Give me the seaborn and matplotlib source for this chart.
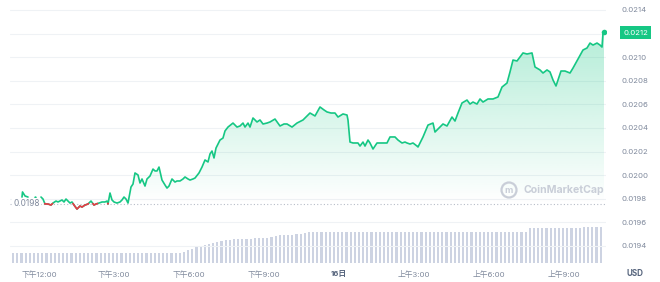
import numpy as np
import pandas as pd
import seaborn as sns
import matplotlib
matplotlib.use("Agg")
import matplotlib.pyplot as plt
from matplotlib.path import Path
from matplotlib.patches import Ellipse
import matplotlib.transforms as mtransforms

# ---------------- data ----------------
nan = float("nan")
# hours relative to 12:00 (下午12:00 = 0)
times = [-0.68, -0.66, -0.56, -0.44, -0.30, -0.16, -0.04,
         0.08, 0.16, 0.24, 0.36, 0.48, 0.56, 0.68, 0.76, 0.84, 0.92, 1.00, 1.08, 1.16, 1.24,
         1.32, 1.40, 1.52, 1.64, 1.72, 1.84, 1.96, 2.08, 2.20, 2.28, 2.40, 2.52, 2.64, 2.72,
         2.76, 2.84, 2.92, 3.00, 3.12, 3.24, 3.32, 3.40, 3.48, 3.56, 3.68, 3.76, 3.84, 3.96,
         4.04, 4.12, 4.24, 4.32, 4.44, 4.56, 4.64, 4.72, 4.80, 4.92, 5.04, 5.12, 5.20, 5.32,
         5.44, 5.52, 5.64, 5.76, 5.84, 5.96, 6.04, 6.16, 6.24, 6.40, 6.52, 6.64, 6.76, 6.84,
         6.92, 7.00, 7.08, 7.16, 7.24, 7.36, 7.44, 7.56, 7.76, 7.92, 8.04, 8.16, 8.24, 8.36,
         8.44, 8.56, 8.72, 8.84, 8.96, 9.12, 9.24, 9.44, 9.64, 9.80, 9.92, 10.12, 10.32, 10.56,
         10.68, 10.84, 11.04, 11.24, 11.40, 11.52, 11.68, 11.84, 11.96, 12.16, 12.32, 12.36,
         12.44, 12.56, 12.76, 12.84, 12.96, 13.04, 13.16, 13.24, 13.36, 13.52, 13.72, 13.92,
         14.04, 14.24, 14.36, 14.52, 14.64, 14.72, 14.84, 14.96, 15.12, 15.16, 15.36, 15.56,
         15.76, 15.84, 16.04, 16.16, 16.32, 16.52, 16.64, 16.76, 16.92, 17.12, 17.24, 17.36,
         17.52, 17.64, 17.76, 17.96, 18.16, 18.36, 18.52, 18.72, 18.84, 18.96, 19.12, 19.24,
         19.36, 19.52, 19.72, 19.84, 20.04, 20.16, 20.32, 20.44, 20.56, 20.68, 20.76, 20.88,
         21.04, 21.24, 21.36, 21.56, 21.76, 21.92, 22.04, 22.16, 22.32, 22.44, 22.52, 22.56,
         22.60]
prices = [0.019815, 0.019858, 0.019824, 0.019815, nan, 0.019815, nan,
          0.019815, 0.019798, 0.019756, 0.019756, 0.019747, 0.019764, 0.019781, 0.019773,
          0.019781, 0.019790, 0.019773, 0.019798, 0.019781, 0.019764,
          0.019773, 0.019747, 0.019713, 0.019739, 0.019730, 0.019747, 0.019756, 0.019781,
          0.019747, 0.019756, 0.019764, 0.019773, 0.019773, 0.019781,
          0.019756, 0.019849, 0.019790, 0.019773, 0.019764, 0.019773, 0.019790, 0.019815,
          0.019798, 0.019764, 0.019900, 0.019925, 0.020019, 0.020002,
          0.019934, 0.019968, 0.019908, 0.019968, 0.019993, 0.020052, 0.020036, 0.020036,
          0.020069, 0.019959, 0.019917, 0.019891, 0.019908, 0.019968,
          0.019942, 0.019951, 0.019951, 0.019968, 0.019985, 0.019968, 0.019959, 0.019968,
          0.019976, 0.020019, 0.020069, 0.020129, 0.020112, 0.020180,
          0.020205, 0.020146, 0.020230, 0.020264, 0.020298, 0.020315, 0.020375, 0.020408,
          0.020442, 0.020408, 0.020417, 0.020442, 0.020408, 0.020442,
          0.020408, 0.020485, 0.020451, 0.020468, 0.020434, 0.020442, 0.020451, 0.020476,
          0.020417, 0.020434, 0.020434, 0.020408, 0.020442, 0.020468,
          0.020493, 0.020527, 0.020502, 0.020578, 0.020553, 0.020536, 0.020527, 0.020527,
          0.020493, 0.020519, 0.020510, 0.020468,
          0.020281, 0.020273, 0.020273, 0.020247, 0.020281, 0.020247, 0.020298, 0.020273,
          0.020222, 0.020273, 0.020273, 0.020273,
          0.020324, 0.020324, 0.020298, 0.020273, 0.020281, 0.020273, 0.020264, 0.020273,
          0.020247, 0.020239, 0.020324, 0.020425,
          0.020442, 0.020366, 0.020408, 0.020434, 0.020417, 0.020493, 0.020459, 0.020527,
          0.020612, 0.020637, 0.020603, 0.020620,
          0.020603, 0.020646, 0.020620, 0.020646, 0.020646, 0.020663, 0.020747, 0.020781,
          0.020875, 0.020976, 0.020968, 0.021002,
          0.021036, 0.021027, 0.021036, 0.020917, 0.020892, 0.020866, 0.020892, 0.020875,
          0.020807, 0.020756, 0.020807, 0.020883,
          0.020883, 0.020866, 0.020908, 0.020985, 0.021061, 0.021078, 0.021120, 0.021103,
          0.021120, 0.021103, 0.021086, 0.021205,
          0.021214]
open_price = 0.01976

# 10-minute volume bars (relative units), first bar at 10:48
vol_start, vol_step = -1.2, 1 / 6
volumes = [
    10.5, 10.5, 10.5, 10.5, 10.5, 10.5, 10.5, 10.5, 10.5, 10.5,
    10.5, 10.5, 10.5, 10.5, 10.5, 10.5, 10.5, 10.5, 10.5, 10.5,
    10.5, 10.5, 10.5, 10.5, 10.5, 10.5, 10.5, 10.5, 10.5, 10.5,
    10.5, 10.5, 10.5, 10.5, 10.5, 10.5, 10.5, 10.5, 10.5, 10.5,
    10.5, 10.5, 11.5, 13.0, 14.5, 16.0, 17.0, 18.0, 19.5, 20.5,
    21.0, 22.0, 23.0, 23.5, 24.0, 24.0, 24.5, 24.5, 24.5, 25.0,
    25.0, 25.5, 25.5, 26.0, 27.0, 28.0, 28.0, 28.5, 28.5, 29.0,
    29.5, 30.0, 31.0, 31.0, 31.5, 31.5, 31.5, 31.5, 31.5, 31.5,
    31.5, 31.5, 31.5, 31.5, 31.5, 31.5, 31.5, 31.5, 31.5, 31.5,
    31.5, 31.5, 31.5, 31.5, 31.5, 31.5, 31.5, 31.5, 31.5, 31.5,
    31.5, 31.5, 31.5, 31.5, 31.0, 31.0, 31.0, 31.0, 31.0, 31.0,
    31.0, 31.0, 31.0, 31.0, 31.0, 31.0, 31.0, 31.0, 31.0, 31.0,
    31.0, 31.0, 31.0, 31.0, 31.0, 35.0, 35.0, 35.0, 35.0, 35.0,
    35.0, 35.0, 35.5, 35.5, 35.5, 35.5, 35.5, 35.5, 36.5, 36.5,
    36.5, 36.5, 36.5]
vol_times = [round(vol_start + i * vol_step, 4) for i in range(len(volumes))]

tick_hours = [0, 3, 6, 9, 12, 15, 18, 21]
tick_labels = ["下午12:00", "下午3:00", "下午6:00", "下午9:00", "16日", "上午3:00", "上午6:00", "上午9:00"]
y_ticks = [0.0194, 0.0196, 0.0198, 0.0200, 0.0202, 0.0204, 0.0206, 0.0208, 0.0210, 0.0212, 0.0214]

# ---------------- style ----------------
sns.set_theme(style="white")
plt.rcParams["font.family"] = ["Inter", "Noto Sans CJK SC", "DejaVu Sans"]

GREEN = "#16c784"
RED = "#ea3943"
GRAY = "#808a9d"
DARK = "#58667e"

W, H = 660, 282
fig = plt.figure(figsize=(W / 100, H / 100), dpi=100)
fig.patch.set_facecolor("white")

x_left, x_right = 10, 606
ax_pos = [x_left / W, 19 / H, (x_right - x_left) / W, 263 / H]
xlim = ((x_left - 39) / 25, (x_right - 39) / 25)
ylim = (0.0214 - 253 / 118000, 0.0214 + 10 / 118000)

# volume axes
axv = fig.add_axes([x_left / W, 19 / H, (x_right - x_left) / W, 60 / H])
axv.set_zorder(0)
vdf = pd.DataFrame({"t": vol_times, "v": volumes})
sns.barplot(data=vdf, x="t", y="v", native_scale=True, width=0.5,
            color="#cdd3e2", saturation=1, ax=axv, edgecolor="none")
axv.set_xlim(*xlim)
axv.set_ylim(0, 60)
axv.axis("off")

# price axes
ax = fig.add_axes(ax_pos)
ax.set_zorder(1)
ax.patch.set_alpha(0)

df = pd.DataFrame({"t": times, "p": prices})
df["seg"] = df["p"].isna().cumsum()
df = df.dropna().reset_index(drop=True)
counts = df["seg"].value_counts()
multi = df[df["seg"].map(counts) > 1]
single = df[df["seg"].map(counts) == 1]

# gradient fill under the line
t_arr = np.array(times)
p_arr = np.array(prices)
valid = ~np.isnan(p_arr)
fb = ax.fill_between(t_arr[valid], p_arr[valid], open_price,
                     where=p_arr[valid] >= open_price, interpolate=True,
                     facecolor="none", edgecolor="none")
paths = fb.get_paths()
if paths:
    clip = Path.make_compound_path(*paths)
    grad = np.zeros((256, 1, 4))
    rgb = matplotlib.colors.to_rgb(GREEN)
    grad[..., 0], grad[..., 1], grad[..., 2] = rgb
    grad[:, 0, 3] = np.linspace(0.0, 0.36, 256)
    im = ax.imshow(grad, extent=[xlim[0], xlim[1], open_price, 0.0214],
                   origin="lower", aspect="auto", zorder=1, interpolation="bilinear")
    im.set_clip_path(clip, transform=ax.transData)

# grid lines
for yv in y_ticks:
    ax.axhline(yv, color="#eff2f5", lw=0.8, zorder=0.5)

ax.axhline(open_price, color="#b7bdc8", lw=0.8, ls=(0, (1, 2)), zorder=1.5)

sns.lineplot(data=multi, x="t", y="p", units="seg", estimator=None, sort=False,
             color=GREEN, lw=1.2, ax=ax, zorder=3, solid_joinstyle="round")
sns.scatterplot(data=single, x="t", y="p", color=GREEN, s=3, linewidth=0, ax=ax, zorder=3)

# red runs where price below open
runs = []
for _, g in multi.groupby("seg"):
    xs, ys = g["t"].to_numpy(), g["p"].to_numpy()
    cur = []
    for i in range(len(xs) - 1):
        x0, y0, x1, y1 = xs[i], ys[i], xs[i + 1], ys[i + 1]
        b0, b1 = y0 < open_price, y1 < open_price
        if b0 and b1:
            if not cur:
                cur = [(x0, y0)]
            cur.append((x1, y1))
        elif b0 and not b1:
            xc = x0 + (open_price - y0) / (y1 - y0) * (x1 - x0)
            if not cur:
                cur = [(x0, y0)]
            cur.append((xc, open_price))
            runs.append(cur)
            cur = []
        elif b1 and not b0:
            xc = x0 + (open_price - y0) / (y1 - y0) * (x1 - x0)
            cur = [(xc, open_price), (x1, y1)]
    if cur:
        runs.append(cur)
rrows = [(x, y, k) for k, r in enumerate(runs) for (x, y) in r]
rdf = pd.DataFrame(rrows, columns=["t", "p", "run"])
if len(rdf):
    sns.lineplot(data=rdf, x="t", y="p", units="run", estimator=None, sort=False,
                 color=RED, lw=1.2, ax=ax, zorder=3.5)

# end dot
last = df.iloc[[-1]]
sns.scatterplot(data=last, x="t", y="p", color=GREEN, s=16, linewidth=0, ax=ax, zorder=4)

ax.set_xlim(*xlim)
ax.set_ylim(*ylim)
ax.set_xlabel("")
ax.set_ylabel("")
for s in ax.spines.values():
    s.set_visible(False)

ax.set_xticks(tick_hours)
ax.set_xticklabels(tick_labels)
ax.tick_params(axis="x", length=0, pad=5, labelsize=5.6, labelcolor=GRAY)
for lab in ax.get_xticklabels():
    if lab.get_text() == "16日":
        lab.set_fontweight("bold")
        lab.set_color(DARK)

ax.yaxis.tick_right()
ax.set_yticks(y_ticks)
last_price = float(df["p"].iloc[-1])
ax.set_yticklabels(["" if abs(v - 0.0212) < 1e-9 else f"{v:.4f}" for v in y_ticks])
ax.tick_params(axis="y", length=0, pad=11.5, labelsize=5.6, labelcolor=GRAY)

# current price tag
trans = mtransforms.blended_transform_factory(ax.transAxes, ax.transData)
ax.text(1 + 17 / 596, last_price - 0.000008, f"{last_price:.4f}", transform=trans,
        ha="left", va="center", color="white", fontsize=5.6, zorder=6,
        bbox=dict(boxstyle="square,pad=0.45", fc=GREEN, ec="none"), clip_on=False)

# open price label on left
ax.text(3 / 596, open_price, f"{open_price:.4f}", transform=trans, ha="left", va="center",
        color=GRAY, fontsize=6.0, zorder=6,
        bbox=dict(boxstyle="square,pad=0.15", fc="white", ec="none"))

# USD label
fig.text(635 / W, 1 - 274 / H, "USD", ha="center", va="center", color=DARK,
         fontsize=5.8, fontweight="bold")

# watermark
fig.text(523 / W, 1 - 190 / H, "CoinMarketCap", ha="left", va="center",
         color="#c9ced8", fontsize=7.6, fontweight="bold")
fig.patches.append(Ellipse((509, H - 190), 15, 15, transform=None, fill=False,
                           ec="#c9ced8", lw=1.6, figure=fig))
fig.text(509 / W, 1 - 190.5 / H, "m", ha="center", va="center", color="#c9ced8",
         fontsize=6.5, fontweight="bold")

fig.savefig("out.png", dpi=100, facecolor="white")
